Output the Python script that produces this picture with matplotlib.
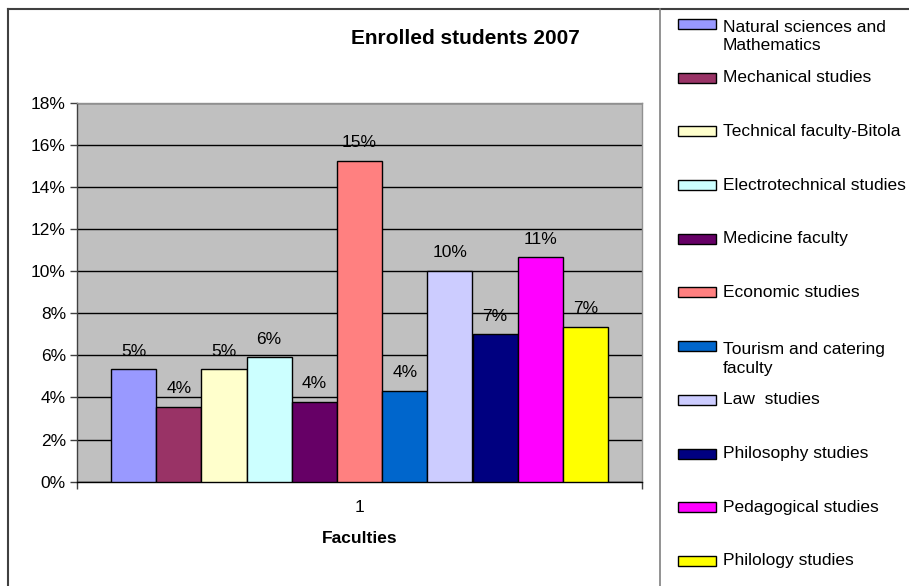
import matplotlib
matplotlib.use('Agg')
import matplotlib.pyplot as plt
from matplotlib.patches import Rectangle
from matplotlib.lines import Line2D

plt.rcParams['font.family'] = ['Liberation Sans', 'DejaVu Sans']

faculties = ['Natural sciences and\nMathematics', 'Mechanical studies',
             'Technical faculty-Bitola', 'Electrotechnical studies',
             'Medicine faculty', 'Economic studies',
             'Tourism and catering\nfaculty', 'Law  studies',
             'Philosophy studies', 'Pedagogical studies', 'Philology studies']
shares = [5.35, 3.56, 5.35, 5.91, 3.80, 15.25, 4.32, 10.02, 7.0, 10.66, 7.36]
colors = ['#9999FF', '#993366', '#FFFFCC', '#CCFFFF', '#660066', '#FF8080',
          '#0066CC', '#CCCCFF', '#000080', '#FF00FF', '#FFFF00']
yticks = [0, 2, 4, 6, 8, 10, 12, 14, 16, 18]

W, H = 909, 586
fig = plt.figure(figsize=(W / 100, H / 100), dpi=100)

# plot area in pixels
left, right, top, bottom = 77, 642, 102.7, 481.7
ax = fig.add_axes([left / W, 1 - bottom / H, (right - left) / W, (bottom - top) / H])
ax.set_facecolor('#C0C0C0')

n = len(shares)
w = 0.08
xs = [1 + (i - (n - 1) / 2) * w for i in range(n)]
bars = ax.bar(xs, shares, width=w, color=colors, edgecolor='black', linewidth=1, zorder=3)
for x, v in zip(xs, shares):
    ax.text(x, v + 0.5, '%d%%' % round(v), ha='center', va='bottom', fontsize=12.5, zorder=4)

ax.set_xlim(0.5, 1.5)
ax.set_ylim(0, 18)
ax.set_yticks(yticks)
ax.set_yticklabels(['%d%%' % t for t in yticks], fontsize=12.5)
ax.yaxis.grid(True, color='black', linewidth=1)
ax.set_axisbelow(True)
ax.tick_params(axis='y', direction='out', length=5, width=1, color='#404040', pad=3)

ax.set_xticks([0.5, 1.5])
ax.set_xticklabels(['', ''])
ax.set_xticks([1.0], minor=True)
ax.set_xticklabels(['1'], minor=True, fontsize=12.5)
ax.tick_params(axis='x', which='major', direction='out', length=5, width=1, color='#404040')
ax.tick_params(axis='x', which='minor', length=0, pad=13)
ax.set_xlabel('Faculties', fontsize=12.5, fontweight='bold', labelpad=12)

ax.spines['left'].set_color('#404040')
ax.spines['bottom'].set_color('black')
ax.spines['top'].set_color('#909090')
ax.spines['right'].set_color('#909090')
for s in ax.spines.values():
    s.set_linewidth(1)

fig.text(465 / W, 1 - 38 / H, 'Enrolled students 2007', ha='center', va='center',
         fontsize=15, fontweight='bold')

# outer chart border and legend separator
fig.add_artist(Line2D([8 / W, 8 / W], [0, 1 - 9 / H], color='#404040', linewidth=1.5))
fig.add_artist(Line2D([8 / W, 1], [1 - 9 / H, 1 - 9 / H], color='#404040', linewidth=1.5))
fig.add_artist(Line2D([660 / W, 660 / W], [0, 1 - 9 / H], color='#808080', linewidth=1.2))

# legend
for i, (name, c) in enumerate(zip(faculties, colors)):
    yc = 24 + i * 53.7
    extra = 22 * name.count('\n')
    fig.add_artist(Rectangle((678 / W, 1 - (yc + 5) / H), 38 / W, 10 / H,
                             facecolor=c, edgecolor='black', linewidth=1,
                             transform=fig.transFigure))
    fig.text(723 / W, 1 - (yc + 4.5 + extra) / H, name, ha='left', va='baseline',
             fontsize=12.5, linespacing=1.3)

fig.savefig('out.png', dpi=100)
